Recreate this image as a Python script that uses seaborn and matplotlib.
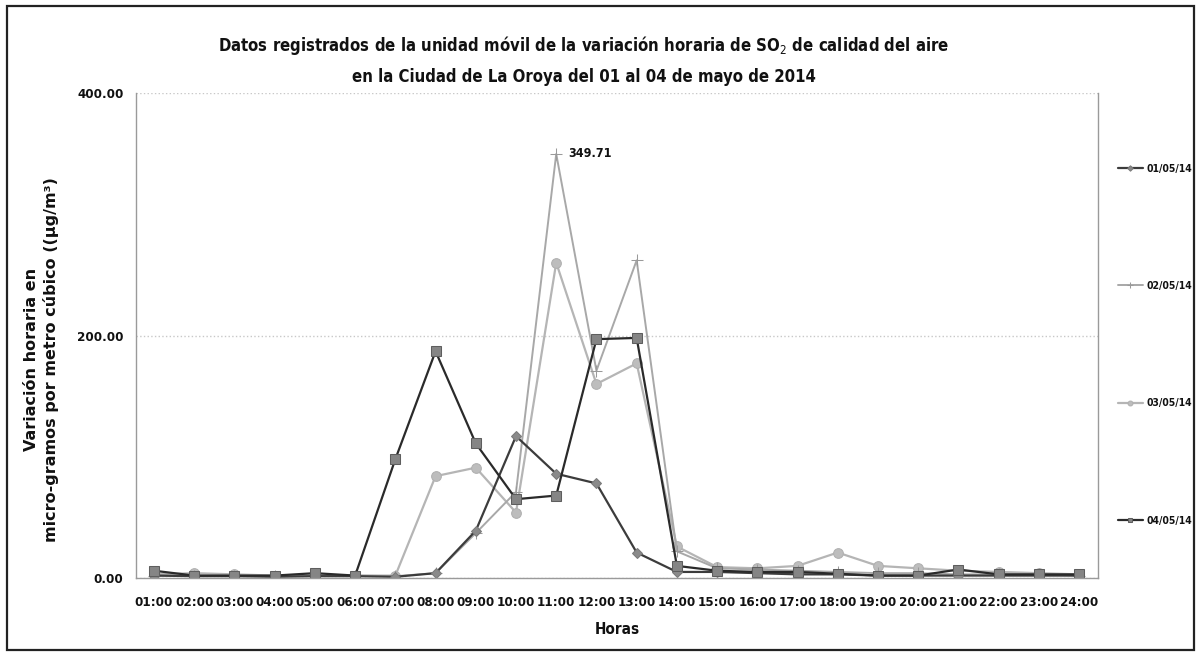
#!/usr/bin/env python3

import pandas as pd
import matplotlib.pyplot as plt
import seaborn as sns
from matplotlib.patches import Rectangle

horas = ["%02d:00" % h for h in range(1, 25)]

# valores (ug/m3)
dia_01 = [2, 1.5, 1.5, 1, 1.5, 1.5, 1, 4, 39, 117, 86, 78, 21, 5,
          5, 4, 3, 3, 2, 2, 2, 2, 2, 2]
dia_02 = [2, 2, 2, 1.5, 2, 2, 1.5, 4, 37, 71, 349.71, 171, 262, 22,
          8, 7, 6, 5, 4, 4, 3, 3, 3, 2]
dia_03 = [3, 4, 3, 2, 2, 2, 2, 84, 91, 54, 260, 160, 177, 26,
          9, 8, 10, 21, 10, 8, 6, 5, 4, 3]
dia_04 = [6, 2, 2, 2, 4, 2, 98, 187, 111, 65, 68, 197, 198, 10,
          6, 5, 5, 3.5, 2, 2, 7, 3, 3, 3]

etiquetas = ["01/05/14", "02/05/14", "03/05/14", "04/05/14"]


def main():
    sns.set_style("white")
    plt.rcParams["font.family"] = ["DejaVu Sans"]
    plt.rcParams["font.stretch"] = "condensed"
    plt.rcParams["text.color"] = "#111111"
    plt.rcParams["axes.labelcolor"] = "#111111"
    plt.rcParams["xtick.color"] = "#111111"
    plt.rcParams["ytick.color"] = "#111111"

    fig = plt.figure(figsize=(12.01, 6.54), dpi=100)
    ax = fig.add_axes([0.1132, 0.1162, 0.801, 0.7416])

    df = pd.DataFrame({"hora": horas, "01": dia_01, "02": dia_02,
                       "03": dia_03, "04": dia_04})

    sns.lineplot(data=df, x="hora", y="03", ax=ax, color="#b5b5b5", lw=1.6,
                 marker="o", markersize=7, markerfacecolor="#bdbdbd",
                 markeredgecolor="#b0b0b0", label=etiquetas[2], sort=False)
    sns.lineplot(data=df, x="hora", y="02", ax=ax, color="#a8a8a8", lw=1.4,
                 marker="+", markersize=8, markeredgecolor="#9a9a9a",
                 label=etiquetas[1], sort=False)
    sns.lineplot(data=df, x="hora", y="01", ax=ax, color="#3c3c3c", lw=1.6,
                 marker="D", markersize=5.5, markerfacecolor="#8a8a8a",
                 markeredgecolor="#7a7a7a", label=etiquetas[0], sort=False)
    sns.lineplot(data=df, x="hora", y="04", ax=ax, color="#2a2a2a", lw=1.6,
                 marker="s", markersize=7, markerfacecolor="#858585",
                 markeredgecolor="#5e5e5e", label=etiquetas[3], sort=False)

    ax.set_xlim(-0.45, 23.47)
    ax.set_ylim(0, 400)
    ax.set_yticks([0, 200, 400])
    ax.set_yticklabels(["0.00", "200.00", "400.00"])
    ax.yaxis.grid(True, color="#c8c8c8", ls=":", lw=1)
    ax.tick_params(axis="both", length=0, labelsize=9.5)
    ax.tick_params(axis="x", pad=13)
    ax.tick_params(axis="y", pad=9)
    for lab in ax.get_xticklabels() + ax.get_yticklabels():
        lab.set_fontweight("bold")

    for side in ["left", "bottom", "right"]:
        ax.spines[side].set_color("#9a9a9a")
        ax.spines[side].set_linewidth(1)
    ax.spines["top"].set_visible(False)

    ax.set_xlabel("Horas", fontsize=11, fontweight="bold", labelpad=9)
    ax.set_ylabel("Variación horaria en\nmicro-gramos por metro cúbico ((µg/m³)",
                  fontsize=11.5, fontweight="bold", fontstretch="normal",
                  linespacing=1.3)
    ax.yaxis.set_label_coords(-0.080, 0.45)

    i_max = dia_02.index(max(dia_02))
    ax.annotate("%.2f" % dia_02[i_max], (i_max, dia_02[i_max]),
                xytext=(9, 0), textcoords="offset points", va="center",
                fontsize=9, fontweight="bold")

    fig.suptitle("Datos registrados de la unidad móvil de la variación horaria de SO$_2$ de calidad del aire\n"
                 "en la Ciudad de La Oroya del 01 al 04 de mayo de 2014",
                 x=0.486, y=0.948, fontsize=12, fontweight="bold", linespacing=1.75)

    handles, labels = ax.get_legend_handles_labels()
    orden = [labels.index(e) for e in etiquetas]
    ax.get_legend().remove()
    fig.legend([handles[i] for i in orden], [labels[i] for i in orden],
               loc="upper left", bbox_to_anchor=(0.923, 0.764), frameon=False,
               labelspacing=10.3, handlelength=2.4,
               handletextpad=0.3, markerscale=0.5,
               prop={"weight": "bold", "size": 7.5})

    fig.patches.append(Rectangle((0.006, 0.006), 0.988, 0.985,
                                 transform=fig.transFigure, fill=False,
                                 edgecolor="#222222", lw=1.6))

    fig.savefig("out.png", dpi=100)


if __name__ == "__main__":
    main()
